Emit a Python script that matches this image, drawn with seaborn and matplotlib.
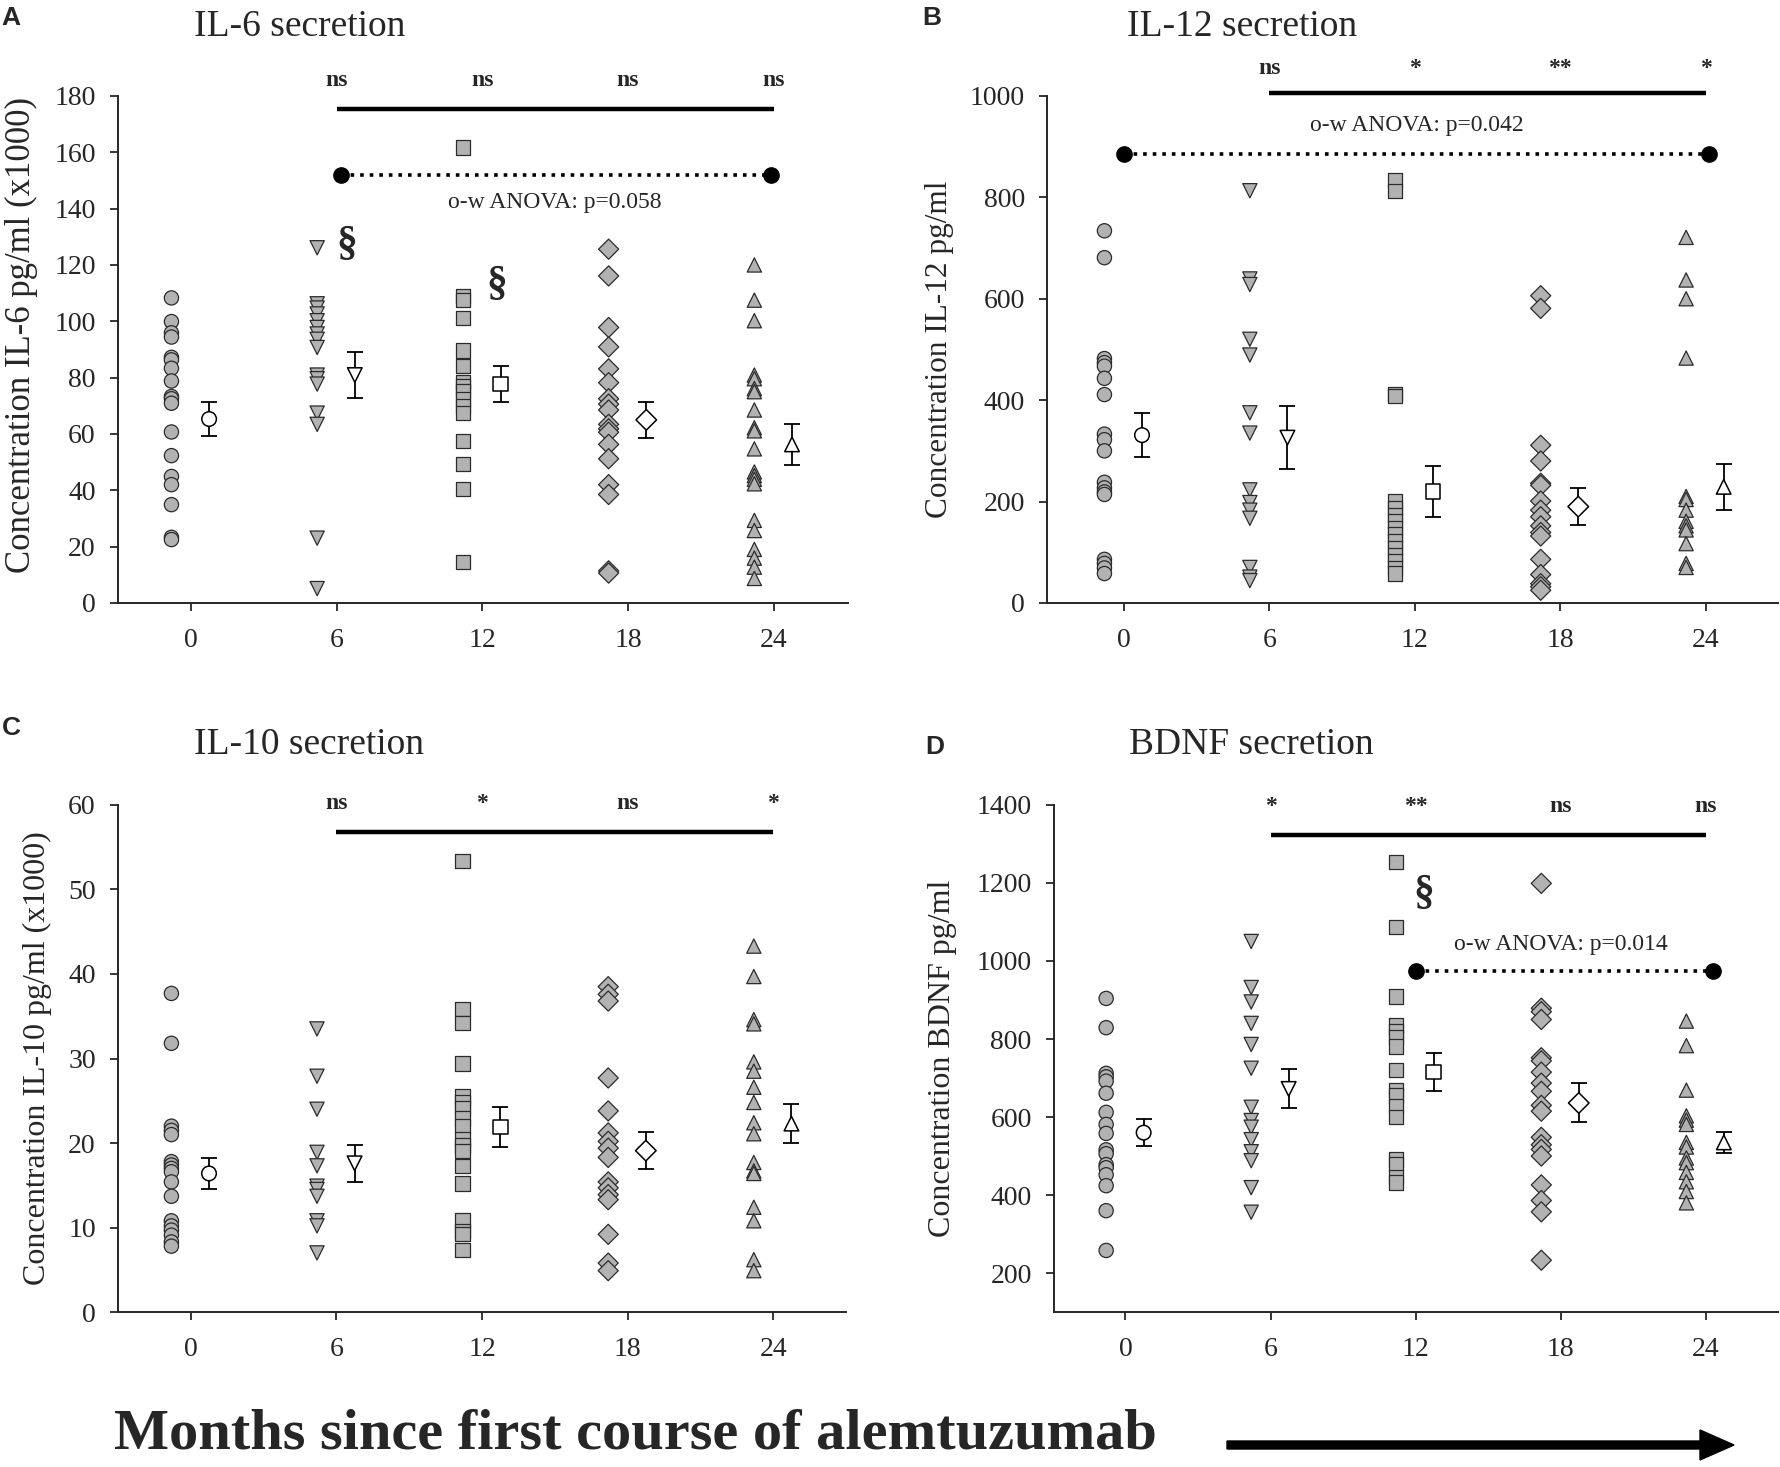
import numpy as np
import pandas as pd
import matplotlib
matplotlib.use("Agg")
import matplotlib.pyplot as plt
import matplotlib.patches as mpatches
from matplotlib.transforms import IdentityTransform
import seaborn as sns

# ---------------- data ----------------
months = [0, 6, 12, 18, 24]

il6_m0 = [108.3, 99.9, 95.9, 94.4, 87.2, 86.3, 83.3, 78.8, 73.3, 72.5, 70.9, 60.7, 52.3, 44.9, 42.0, 34.9, 23.3, 22.5]
il6_m6 = [126.1, 106.2, 104.7, 102.6, 100.2, 97.8, 95.5, 93.6, 90.7, 80.9, 79.6, 77.7, 67.4, 63.4, 23.0, 5.1]
il6_m12 = [161.7, 109.1, 107.5, 101.2, 89.6, 84.0, 78.5, 76.9, 75.3, 72.5, 69.8, 67.4, 57.4, 49.2, 40.4, 14.6]
il6_m18 = [125.6, 116.1, 97.8, 90.9, 83.1, 78.2, 72.5, 70.6, 68.5, 63.4, 61.8, 60.6, 56.3, 51.2, 42.0, 38.5, 11.4, 10.6]
il6_m24 = [120.0, 107.5, 100.2, 80.9, 79.6, 76.1, 75.0, 68.5, 62.2, 61.1, 54.7, 46.5, 45.2, 43.9, 42.3, 29.3, 25.7, 19.0, 15.9, 12.7, 8.7]
il6_mean = [65.3, 80.9, 77.7, 65.0, 56.3]
il6_sem = [5.9, 8.1, 6.5, 6.5, 7.3]
il6_sig = ["ns", "ns", "ns", "ns"]

il12_m0 = [734, 681, 482, 474, 467, 443, 411, 333, 322, 300, 238, 227, 219, 214, 86, 78, 69, 58]
il12_m6 = [813, 639, 628, 520, 489, 375, 335, 223, 198, 183, 167, 70, 51, 44]
il12_m12 = [833, 813, 412, 408, 201, 188, 174, 161, 148, 135, 122, 108, 95, 82, 69, 58]
il12_m18 = [606, 581, 311, 280, 236, 232, 201, 183, 170, 152, 139, 132, 86, 56, 38, 32, 25]
il12_m24 = [721, 637, 600, 483, 210, 204, 183, 161, 152, 144, 117, 78, 70]
il12_mean = [331, 326, 220, 190, 229]
il12_sem = [43, 62, 51, 36, 46]
il12_sig = ["ns", "*", "**", "*"]

il10_m0 = [37.7, 31.8, 22.0, 21.5, 21.0, 17.8, 17.4, 17.0, 16.6, 15.4, 13.7, 10.8, 10.2, 9.7, 9.1, 8.3, 7.8]
il10_m6 = [33.5, 27.9, 24.0, 18.9, 17.3, 14.9, 14.5, 13.7, 10.8, 10.2, 7.0]
il10_m12 = [53.4, 35.9, 34.2, 29.4, 25.6, 24.8, 24.1, 22.9, 22.0, 20.5, 19.7, 19.1, 17.3, 15.2, 10.9, 9.6, 9.2, 7.3]
il10_m18 = [38.5, 37.6, 36.8, 27.7, 23.8, 21.2, 20.2, 19.4, 18.3, 15.4, 14.7, 13.9, 13.3, 9.2, 5.8, 4.9]
il10_m24 = [43.3, 39.7, 34.6, 34.1, 29.6, 28.5, 26.6, 24.8, 22.4, 21.1, 17.7, 16.7, 16.4, 12.4, 10.8, 6.2, 4.9]
il10_mean = [16.4, 17.6, 21.9, 19.1, 22.3]
il10_sem = [1.8, 2.2, 2.4, 2.2, 2.35]
il10_sig = ["ns", "*", "ns", "*"]

bdnf_m0 = [904, 829, 712, 703, 692, 661, 612, 581, 558, 516, 506, 478, 470, 452, 424, 360, 258]
bdnf_m6 = [1050, 932, 895, 840, 786, 725, 625, 591, 574, 542, 511, 488, 419, 356]
bdnf_m12 = [1254, 1087, 909, 835, 821, 804, 781, 720, 669, 655, 629, 600, 491, 480, 446, 432]
bdnf_m18 = [1199, 879, 870, 850, 752, 744, 715, 687, 666, 630, 615, 548, 529, 517, 500, 426, 386, 357, 233]
bdnf_m24 = [846, 783, 669, 603, 592, 581, 535, 523, 495, 483, 458, 434, 409, 380]
bdnf_mean = [560, 672, 715, 636, 535]
bdnf_sem = [35, 50, 49, 50, 27]
bdnf_sig = ["*", "**", "ns", "ns"]

# ---------------- style ----------------
sns.set_style("ticks")
plt.rcParams["font.family"] = ["Liberation Serif", "DejaVu Serif"]
plt.rcParams["axes.linewidth"] = 1.4

MARKERS = {0: "o", 6: "v", 12: "s", 18: "D", 24: "^"}
GRAY = "#b2b2b2"
EDGE = "#2b2b2b"
PT_OFF = -0.8
MEAN_OFF = 0.75

fig = plt.figure(figsize=(17.8, 14.67), dpi=100)


def panel(rect, groups, mean, sem, xlim, ylim, yticks, ylabel, ylab_off,
          ylab_size, ylab_y, sig, sig_y, bar_y):
    ax = fig.add_axes(rect)
    rows = []
    for m, vals in zip(months, groups):
        for v in vals:
            rows.append({"month": m, "x": m + PT_OFF, "value": v})
    df = pd.DataFrame(rows)
    sns.scatterplot(data=df, x="x", y="value", style="month", markers=MARKERS,
                    style_order=months, color=GRAY, edgecolor=EDGE, linewidth=0.9,
                    s=105, legend=False, ax=ax, zorder=3, clip_on=False)
    mdf = pd.DataFrame({"month": months, "x": np.array(months) + MEAN_OFF,
                        "mean": mean, "sem": sem})
    ax.errorbar(mdf["x"], mdf["mean"], yerr=mdf["sem"], fmt="none",
                ecolor="black", elinewidth=1.3, capsize=6, capthick=1.3, zorder=4)
    sns.scatterplot(data=mdf, x="x", y="mean", style="month", markers=MARKERS,
                    style_order=months, color="white", edgecolor="black",
                    linewidth=1.1, s=110, legend=False, ax=ax, zorder=5)
    ax.set_xlim(*xlim)
    ax.set_ylim(*ylim)
    ax.set_xticks(months)
    ax.set_xticklabels([str(m) for m in months])
    ax.set_yticks(yticks)
    ax.set_yticklabels([str(t) for t in yticks])
    ax.tick_params(axis="both", labelsize=20, length=6, width=1.3, direction="out")
    ax.tick_params(axis="x", pad=12)
    ax.tick_params(axis="y", pad=10)
    sns.despine(ax=ax)
    ax.set_xlabel("")
    ax.set_ylabel(ylabel, fontsize=ylab_size)
    wpx = rect[2] * 1780
    ax.yaxis.set_label_coords(-ylab_off / wpx, ylab_y)
    # significance annotations
    for m, s in zip(months[1:], sig):
        ax.text(m, sig_y, s, ha="center", va="center", fontsize=17,
                fontweight="bold", clip_on=False)
    ax.plot([6, 24], [bar_y, bar_y], color="black", lw=3.2, clip_on=False,
            solid_capstyle="butt")
    return ax


# Panel A
axA = panel([0.0663, 0.589, 0.4103, 0.3456],
            [il6_m0, il6_m6, il6_m12, il6_m18, il6_m24], il6_mean, il6_sem,
            (-3.0, 27.07), (0, 180), list(range(0, 181, 20)),
            "Concentration IL-6 pg/ml (x1000)", 80, 25, 0.528, il6_sig, 185.5, 175.5)
axA.plot([6.2, 23.9], [151.9, 151.9], ls=":", color="black", lw=2.6,
         marker="o", markersize=11, markevery=[0, 1], zorder=6)
axA.text(15.0, 142.2, "o-w ANOVA: p=0.058", ha="center", va="center", fontsize=17)
axA.text(6.42, 127.2, "§", ha="center", va="center", fontsize=30, fontweight="bold")
axA.text(12.58, 112.9, "§", ha="center", va="center", fontsize=30, fontweight="bold")

# Panel B
axB = panel([0.5882, 0.589, 0.4108, 0.3456],
            [il12_m0, il12_m6, il12_m12, il12_m18, il12_m24], il12_mean, il12_sem,
            (-3.17, 27.0), (0, 1000), list(range(0, 1001, 200)),
            "Concentration IL-12 pg/ml", 93, 22.5, 0.5, il12_sig, 1054, 1005)
axB.plot([0.0, 24.15], [885, 885], ls=":", color="black", lw=2.6,
         marker="o", markersize=11, markevery=[0, 1], zorder=6, clip_on=False)
axB.text(12.07, 941, "o-w ANOVA: p=0.042", ha="center", va="center", fontsize=17)

# Panel C
axC = panel([0.0663, 0.1056, 0.4090, 0.3457],
            [il10_m0, il10_m6, il10_m12, il10_m18, il10_m24], il10_mean, il10_sem,
            (-3.0, 27.0), (0, 60), list(range(0, 61, 10)),
            "Concentration IL-10 pg/ml (x1000)", 66, 23, 0.5, il10_sig, 60.2, 56.8)

# Panel D
axD = panel([0.5921, 0.1056, 0.4069, 0.3457],
            [bdnf_m0, bdnf_m6, bdnf_m12, bdnf_m18, bdnf_m24], bdnf_mean, bdnf_sem,
            (-2.96, 27.0), (100, 1400), list(range(200, 1401, 200)),
            "Concentration BDNF pg/ml", 97, 23, 0.5, bdnf_sig, 1397, 1322)
axD.plot([12.0, 24.3], [974, 974], ls=":", color="black", lw=2.6,
         marker="o", markersize=11, markevery=[0, 1], zorder=6, clip_on=False)
axD.text(18.0, 1041, "o-w ANOVA: p=0.014", ha="center", va="center", fontsize=17)
axD.text(12.35, 1171, "§", ha="center", va="center", fontsize=30, fontweight="bold")

# titles and panel letters
for x, y, t in [(0.109, 0.9816, "IL-6 secretion"), (0.633, 0.9816, "IL-12 secretion"),
                (0.109, 0.492, "IL-10 secretion"), (0.634, 0.492, "BDNF secretion")]:
    fig.text(x, y, t, ha="left", va="center", fontsize=27)
for x, y, t in [(0.001, 0.988, "A"), (0.518, 0.988, "B"),
                (0.001, 0.504, "C"), (0.520, 0.491, "D")]:
    fig.text(x, y, t, ha="left", va="center", fontsize=19, fontweight="bold",
             family=["Liberation Sans", "DejaVu Sans"])

# bottom caption and arrow
fig.text(0.064, 0.0125, "Months since first course of alemtuzumab", ha="left",
         va="baseline", fontsize=42, fontweight="bold")
arrow = mpatches.FancyArrow(1227, 22, 1734 - 1227, 0, width=8, head_width=30,
                            head_length=34, length_includes_head=True,
                            color="black", transform=IdentityTransform())
fig.add_artist(arrow)

fig.savefig("out.png", dpi=100)
